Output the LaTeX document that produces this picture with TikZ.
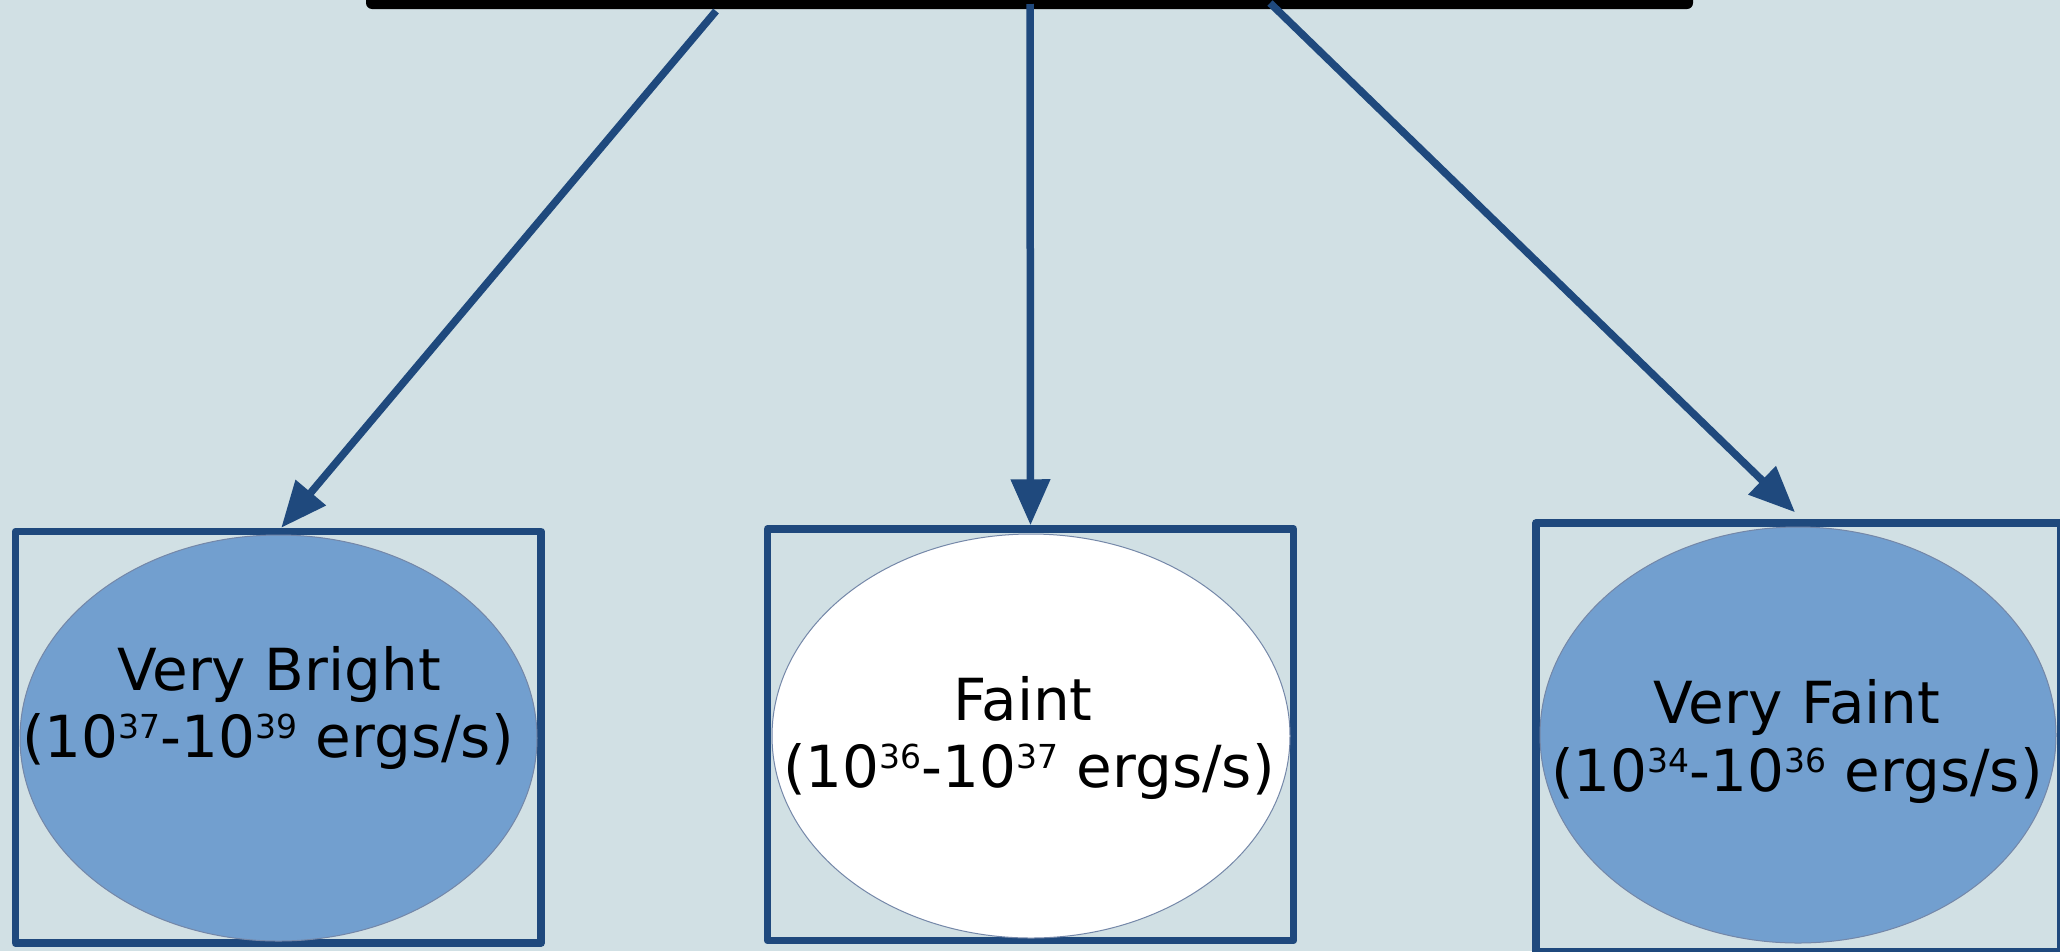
\documentclass[tikz,border=0pt]{standalone}
\usepackage{fontspec}
\setmainfont{DejaVu Sans}
\usetikzlibrary{arrows.meta,shapes.geometric}
\definecolor{bgcol}{HTML}{D1E0E4}
\definecolor{navy}{HTML}{1F497D}
\definecolor{blobblue}{HTML}{729FCF}
\definecolor{rimcol}{HTML}{7487A8}
% small raised exponent
\newcommand{\ex}[1]{\raisebox{19pt}{\fontsize{33}{33}\selectfont #1}}

\begin{document}
\begin{tikzpicture}[x=1pt,y=-1pt,
  classbox/.style={draw=navy, line width=7.5pt, line join=round, rectangle, inner sep=0pt},
  blob/.style={ellipse, draw=rimcol, line width=1pt, inner sep=0pt},
  lbl/.style={anchor=base, inner sep=0pt, font=\fontsize{58}{68}\selectfont},
  link/.style={draw=navy, line width=7.5pt, -{Triangle[length=46pt,width=38pt]}}]

\useasboundingbox (0,0) rectangle (2060,951);
\fill[bgcol] (0,0) rectangle (2060,951);

% source bar along the top edge
\node[fill=black, rectangle, rounded corners=6pt, minimum width=1327pt, minimum height=32pt, inner sep=0pt] (src) at (1029.5,-7) {};

% class frames
\node[classbox, minimum width=525.5pt, minimum height=411.5pt] (b1) at (278.25,737.25) {};
\node[classbox, minimum width=526pt, minimum height=411.5pt] (b2) at (1030.5,734.75) {};
\node[classbox, minimum width=525pt, minimum height=429pt] (b3) at (1798.5,737.5) {};

% ellipses
\node[blob, fill=blobblue, minimum width=517pt, minimum height=406pt] (e1) at (278.5,738) {};
\node[blob, fill=white, minimum width=518pt, minimum height=404pt] (e2) at (1031,736) {};
\node[blob, fill=blobblue, minimum width=516pt, minimum height=416pt] (e3) at (1798,735) {};

% labels
\node[lbl] (t1a) at (279,690) {Very Bright};
\node[lbl] (t1b) at (268,757) {(10\ex{37}-10\ex{39} ergs/s)};
\node[lbl] (t2a) at (1023,720) {Faint};
\node[lbl] (t2b) at (1029,787) {(10\ex{36}-10\ex{37} ergs/s)};
\node[lbl] (t3a) at (1797,723) {Very Faint};
\node[lbl] (t3b) at (1797,791) {(10\ex{34}-10\ex{36} ergs/s)};

% connectors
\coordinate (s1) at (716,11);
\coordinate (s2) at (1030,4);
\coordinate (s3) at (1270,3);
\draw[link] (s1) -- ([xshift=3pt]b1.north);
\draw[link] (s2) -- (b2.north);
\draw[link] (s3) -- ([xshift=-3.5pt,yshift=7pt]b3.north);
\end{tikzpicture}
\end{document}
